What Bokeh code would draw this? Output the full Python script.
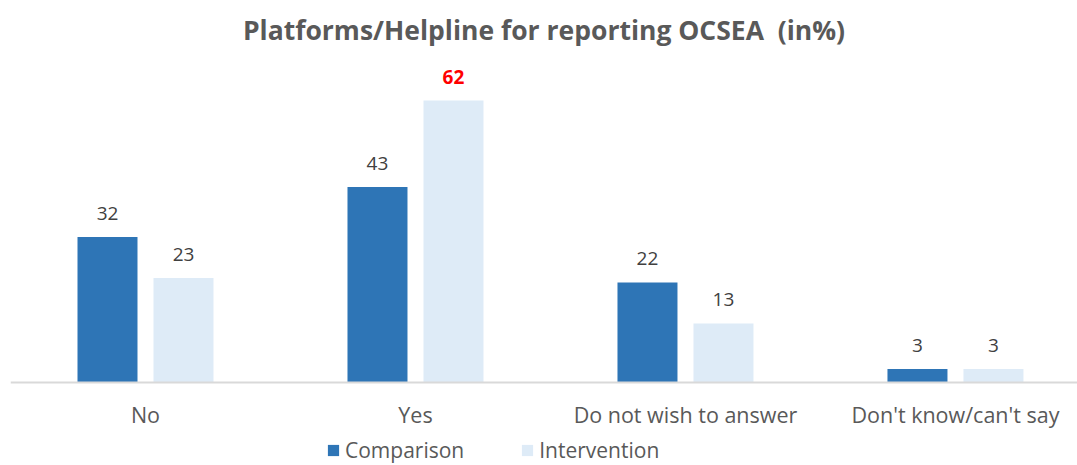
from bokeh.plotting import figure
from bokeh.models import ColumnDataSource, FixedTicker, LabelSet, Legend, LegendItem
from bokeh.core.properties import value
from bokeh.transform import dodge
from bokeh.embed import file_html
from bokeh.resources import INLINE

categories = ["No", "Yes", "Do not wish to answer", "Don't know/can't say"]
comparison = [32, 43, 22, 3]
intervention = [23, 62, 13, 3]
label_colors_cmp = ["#404040", "#404040", "#404040", "#404040"]
label_colors_int = ["#404040", "#FF0000", "#404040", "#404040"]
label_styles_int = ["normal", "bold", "normal", "normal"]

FONT = "Open Sans"

src = ColumnDataSource(dict(
    x=list(range(len(categories))),
    cmp=comparison,
    itv=intervention,
    cmp_txt=[str(v) for v in comparison],
    itv_txt=[str(v) for v in intervention],
    cmp_col=label_colors_cmp,
    itv_col=label_colors_int,
    itv_sty=label_styles_int,
))

p = figure(width=1077, height=465, output_backend="svg", toolbar_location=None,
           x_range=(-0.5, 3.452), y_range=(-18.25, 71.7),
           min_border_left=10, min_border_right=0, min_border_top=0, min_border_bottom=0)

p.title.text = "Platforms/Helpline for reporting OCSEA \u00a0(in%)"
p.title.align = "center"
p.title.text_font = FONT
p.title.text_font_size = "26.5px"
p.title.text_font_style = "bold"
p.title.text_color = "#595959"
p.title.offset = 0
p.title.standoff = 18

off = 38 / 270
w = 60 / 270
r1 = p.vbar(x=dodge("x", -off), top="cmp", width=w, source=src, color="#2E75B6", line_color=None)
r2 = p.vbar(x=dodge("x", off), top="itv", width=w, source=src, color="#DEEBF7", line_color=None)

l1 = LabelSet(x=dodge("x", -off), y="cmp", text="cmp_txt", source=src, text_align="center",
              text_baseline="alphabetic", y_offset=17, text_font=value(FONT), text_font_size="19px",
              text_color="cmp_col")
l2 = LabelSet(x=dodge("x", off), y="itv", text="itv_txt", source=src, text_align="center",
              text_baseline="alphabetic", y_offset=17, text_font=value(FONT), text_font_size="19px",
              text_color="itv_col", text_font_style="itv_sty")
p.add_layout(l1)
p.add_layout(l2)

p.yaxis.visible = False
p.xgrid.visible = False
p.ygrid.visible = False
p.outline_line_color = None

xa = p.xaxis[0]
xa.fixed_location = 0
xa.ticker = FixedTicker(ticks=list(range(len(categories))))
xa.major_label_overrides = {i: c for i, c in enumerate(categories)}
xa.major_tick_line_color = None
xa.minor_tick_line_color = None
xa.axis_line_color = "#D9D9D9"
xa.axis_line_width = 2
xa.major_label_text_font = FONT
xa.major_label_text_font_size = "21.5px"
xa.major_label_text_color = "#595959"
xa.major_label_standoff = 11

legend = Legend(items=[LegendItem(label="Comparison", renderers=[r1]),
                       LegendItem(label="Intervention", renderers=[r2])],
                orientation="horizontal", location=(316, 1),
                label_text_font=FONT, label_text_font_size="21px", label_text_color="#595959",
                glyph_width=14, glyph_height=14, spacing=56, padding=0, margin=0,
                label_standoff=5, border_line_color=None, background_fill_alpha=0)
p.add_layout(legend, "center")

open("out.html", "w").write(file_html(p, INLINE))
